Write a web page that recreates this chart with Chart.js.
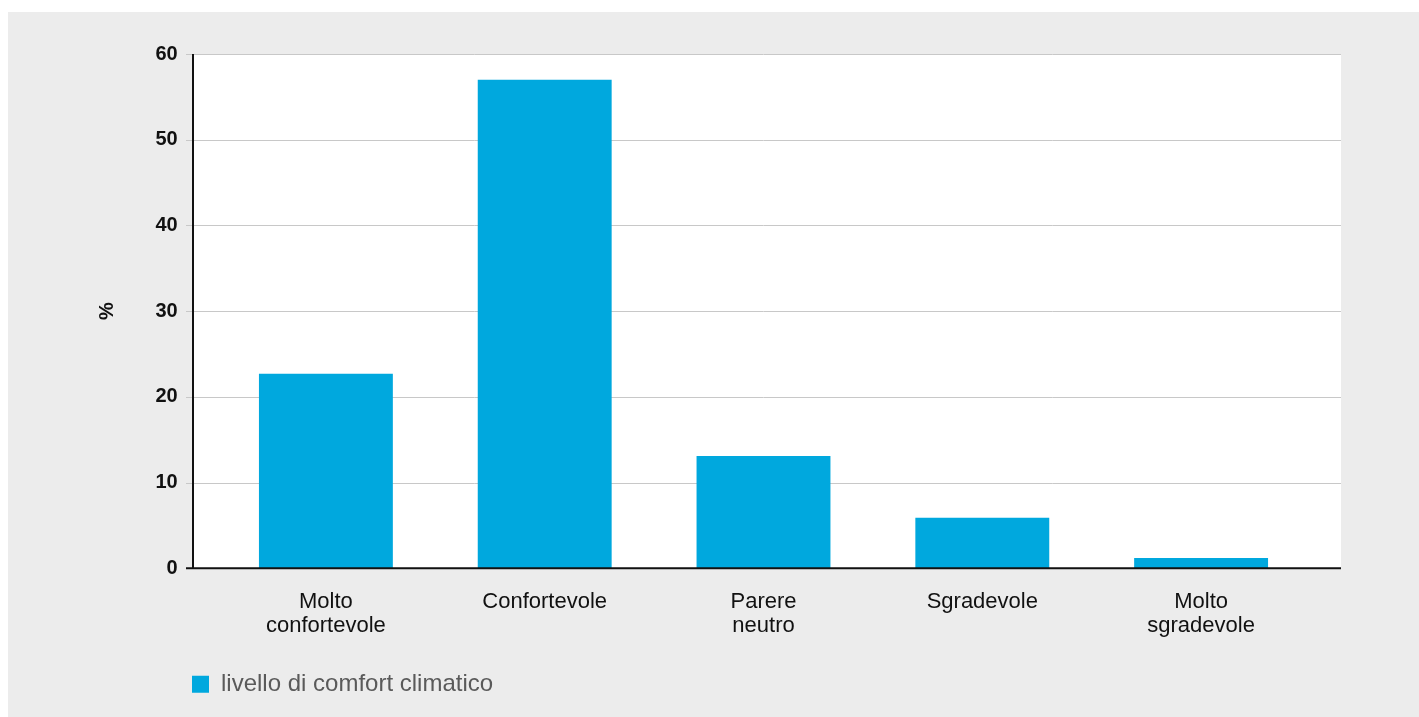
<!DOCTYPE html>
<html>
<head>
<meta charset="utf-8">
<script src="https://cdn.jsdelivr.net/npm/chart.js@4.4.1/dist/chart.umd.min.js"></script>
<style>
    html, body { margin: 0; padding: 0; background: #ffffff; }
    #panel {
        position: absolute;
        left: 8px;
        top: 12px;
        width: 1411px;
        height: 705px;
        background: #ececec;
    }
</style>
</head>
<body>
<div id="panel"><canvas id="comfortChart"></canvas></div>
<script>
const categories = [["Molto", "confortevole"], "Confortevole", ["Parere", "neutro"], "Sgradevole", ["Molto", "sgradevole"]];
const comfortValues = [22.7, 57.0, 13.1, 5.9, 1.2];
const yTicks = [0, 10, 20, 30, 40, 50, 60];
const seriesName = "livello di comfort climatico";

const FONT = "'Liberation Sans', Arial, Helvetica, sans-serif";
const BAR_COLOR = "#00a8de";
const LEGEND_SHIFT = 174;

// white plot box, grid lines and black axes drawn from the y scale
const plotFrame = {
    id: "plotFrame",
    afterLayout(chart) {
        // legend starts under the y axis, not at the canvas edge
        chart.legend.left += LEGEND_SHIFT;
        chart.legend.right += LEGEND_SHIFT;
    },
    beforeDatasetsDraw(chart) {
        const ctx = chart.ctx;
        const y = chart.scales.y;
        const area = chart.chartArea;
        const left = area.left - 23.5;
        const right = area.right + 30.5;
        const top = y.getPixelForValue(yTicks[yTicks.length - 1]);
        const bottom = y.getPixelForValue(0);
        ctx.save();
        ctx.fillStyle = "#ffffff";
        ctx.fillRect(left, top, right - left, bottom - top);
        ctx.strokeStyle = "#c8c8c8";
        ctx.lineWidth = 1;
        yTicks.forEach(v => {
            if (v === 0) return;
            const py = Math.round(y.getPixelForValue(v)) + 0.5;
            ctx.beginPath();
            ctx.moveTo(left - 7, py);
            ctx.lineTo(right, py);
            ctx.stroke();
        });
        ctx.restore();
    },
    afterDatasetsDraw(chart) {
        const ctx = chart.ctx;
        const y = chart.scales.y;
        const area = chart.chartArea;
        const left = area.left - 23.5;
        const right = area.right + 30.5;
        const top = y.getPixelForValue(yTicks[yTicks.length - 1]);
        const bottom = y.getPixelForValue(0);
        ctx.save();
        ctx.strokeStyle = "#111111";
        ctx.lineWidth = 2;
        ctx.beginPath();
        ctx.moveTo(left, top);
        ctx.lineTo(left, bottom);
        ctx.moveTo(left - 7, bottom);
        ctx.lineTo(right, bottom);
        ctx.stroke();
        ctx.restore();
    }
};

new Chart(document.getElementById("comfortChart"), {
    type: "bar",
    data: {
        labels: categories,
        datasets: [{
            label: seriesName,
            data: comfortValues,
            backgroundColor: BAR_COLOR,
            borderWidth: 0,
            categoryPercentage: 1,
            barPercentage: 0.612
        }]
    },
    options: {
        responsive: true,
        maintainAspectRatio: false,
        animation: false,
        layout: {
            padding: { left: 0, right: 108.5, top: 42, bottom: 10.8 }
        },
        scales: {
            x: {
                grid: { display: false, drawTicks: false },
                border: { display: false },
                ticks: {
                    color: "#111111",
                    padding: 21.4,
                    maxRotation: 0,
                    font: { family: FONT, size: 22, lineHeight: 24 / 22 }
                },
                afterFit(scale) { scale.height = 93.9; }
            },
            y: {
                min: 0,
                max: 60,
                // invisible tick length keeps the labels clear of the axis
                grid: { display: false, drawTicks: true, tickLength: 38.8 },
                border: { display: false },
                ticks: {
                    stepSize: 10,
                    color: "#111111",
                    padding: 0,
                    font: { family: FONT, size: 20, weight: "bold" }
                },
                title: {
                    display: true,
                    text: "%",
                    color: "#111111",
                    padding: { top: 87, bottom: 0 },
                    font: { family: FONT, size: 20, weight: "bold" }
                },
                afterFit(scale) { scale.width = 208.5; }
            }
        },
        plugins: {
            legend: {
                display: true,
                position: "bottom",
                align: "start",
                labels: {
                    boxWidth: 17,
                    boxHeight: 17,
                    padding: 10,
                    color: "#5a5a5a",
                    font: { family: FONT, size: 24 }
                }
            },
            tooltip: { enabled: false }
        }
    },
    plugins: [plotFrame]
});
</script>
</body>
</html>
